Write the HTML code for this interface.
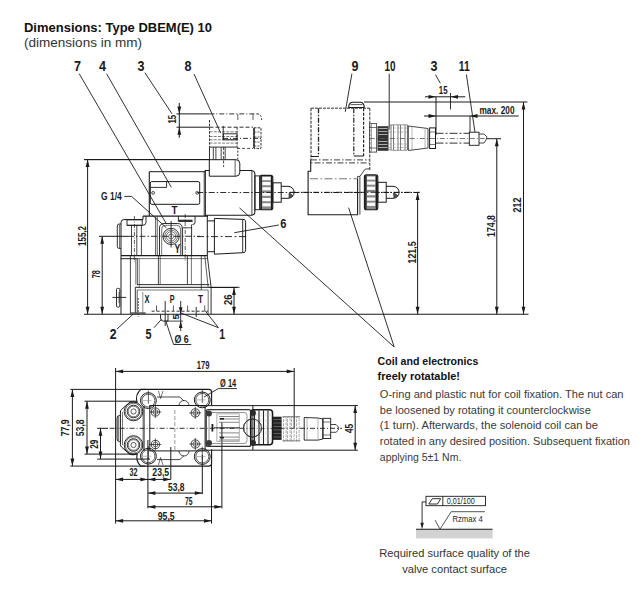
<!DOCTYPE html>
<html><head><meta charset="utf-8"><style>
html,body{margin:0;padding:0;background:#fff;}
svg{display:block;font-family:"Liberation Sans",sans-serif;}
</style></head><body>
<svg width="643" height="604" viewBox="0 0 643 604">
<rect width="643" height="604" fill="#fff"/>
<text x="24" y="31.6" font-size="12.8" font-weight="bold" text-anchor="start" textLength="188" lengthAdjust="spacingAndGlyphs" fill="#111">Dimensions: Type DBEM(E) 10</text>
<text x="24" y="46.6" font-size="13" font-weight="normal" text-anchor="start" textLength="118" lengthAdjust="spacingAndGlyphs" fill="#333">(dimensions in mm)</text>
<text x="74" y="71.4" font-size="14" font-weight="bold" text-anchor="start" textLength="7" lengthAdjust="spacingAndGlyphs" fill="#1a1a1a">7</text>
<text x="99" y="71.4" font-size="14" font-weight="bold" text-anchor="start" textLength="7" lengthAdjust="spacingAndGlyphs" fill="#1a1a1a">4</text>
<text x="137.5" y="71.4" font-size="14" font-weight="bold" text-anchor="start" textLength="7" lengthAdjust="spacingAndGlyphs" fill="#1a1a1a">3</text>
<text x="184.5" y="71.4" font-size="14" font-weight="bold" text-anchor="start" textLength="7" lengthAdjust="spacingAndGlyphs" fill="#1a1a1a">8</text>
<text x="351.5" y="71.4" font-size="14" font-weight="bold" text-anchor="start" textLength="7" lengthAdjust="spacingAndGlyphs" fill="#1a1a1a">9</text>
<text x="384.5" y="71.4" font-size="14" font-weight="bold" text-anchor="start" textLength="11" lengthAdjust="spacingAndGlyphs" fill="#1a1a1a">10</text>
<text x="430.5" y="71.4" font-size="14" font-weight="bold" text-anchor="start" textLength="7" lengthAdjust="spacingAndGlyphs" fill="#1a1a1a">3</text>
<text x="458.8" y="71.4" font-size="14" font-weight="bold" text-anchor="start" textLength="11" lengthAdjust="spacingAndGlyphs" fill="#1a1a1a">11</text>
<line x1="79.2" y1="73.7" x2="166.5" y2="224" stroke="#1a1a1a" stroke-width="0.9"/>
<line x1="106.6" y1="73.7" x2="171.3" y2="187.3" stroke="#1a1a1a" stroke-width="0.9"/>
<line x1="144.9" y1="72.7" x2="172" y2="113.8" stroke="#1a1a1a" stroke-width="0.9"/>
<line x1="194" y1="74" x2="220.7" y2="133.1" stroke="#1a1a1a" stroke-width="0.9"/>
<line x1="351.9" y1="73.7" x2="345.3" y2="111.8" stroke="#1a1a1a" stroke-width="0.9"/>
<line x1="389.2" y1="73.7" x2="389.2" y2="129.6" stroke="#1a1a1a" stroke-width="0.9"/>
<line x1="435.5" y1="74.6" x2="440.3" y2="83.3" stroke="#1a1a1a" stroke-width="0.9"/>
<line x1="466.4" y1="74.6" x2="475" y2="132.3" stroke="#1a1a1a" stroke-width="0.9"/>
<line x1="84" y1="314.3" x2="528.5" y2="314.3" stroke="#1a1a1a" stroke-width="1.1"/>
<line x1="84.3" y1="159.5" x2="209.5" y2="159.5" stroke="#1a1a1a" stroke-width="1"/>
<line x1="87.6" y1="159.5" x2="87.6" y2="314.3" stroke="#1a1a1a" stroke-width="1"/>
<polygon points="87.6,159.5 85.7,167 89.5,167" fill="#1a1a1a"/>
<polygon points="87.6,314.3 85.7,306.8 89.5,306.8" fill="#1a1a1a"/>
<text x="85.6" y="246" font-size="11" font-weight="bold" text-anchor="start" textLength="20" lengthAdjust="spacingAndGlyphs" transform="rotate(-90 85.6 246)" fill="#1a1a1a">155,2</text>
<line x1="99" y1="236.3" x2="128" y2="236.3" stroke="#1a1a1a" stroke-width="1"/>
<line x1="128" y1="236.3" x2="200" y2="236.3" stroke="#1a1a1a" stroke-width="0.9" stroke-dasharray="6 2 1.5 2"/>
<line x1="102.2" y1="236.3" x2="102.2" y2="314.3" stroke="#1a1a1a" stroke-width="1"/>
<polygon points="102.2,236.3 100.3,243.8 104.1,243.8" fill="#1a1a1a"/>
<polygon points="102.2,314.3 100.3,306.8 104.1,306.8" fill="#1a1a1a"/>
<text x="99.8" y="278.3" font-size="11" font-weight="bold" text-anchor="start" textLength="8" lengthAdjust="spacingAndGlyphs" transform="rotate(-90 99.8 278.3)" fill="#1a1a1a">78</text>
<line x1="209.6" y1="287.5" x2="237" y2="287.5" stroke="#1a1a1a" stroke-width="1"/>
<line x1="234" y1="287.5" x2="234" y2="314.3" stroke="#1a1a1a" stroke-width="1"/>
<polygon points="234,287.5 232.1,295 235.9,295" fill="#1a1a1a"/>
<polygon points="234,314.3 232.1,306.8 235.9,306.8" fill="#1a1a1a"/>
<text x="231.7" y="305" font-size="11" font-weight="bold" text-anchor="start" textLength="10.5" lengthAdjust="spacingAndGlyphs" transform="rotate(-90 231.7 305)" fill="#1a1a1a">26</text>
<line x1="294" y1="192.5" x2="420" y2="192.5" stroke="#1a1a1a" stroke-width="1" stroke-dasharray="5 2 1 2"/>
<line x1="417.6" y1="192.5" x2="417.6" y2="314.3" stroke="#1a1a1a" stroke-width="1"/>
<polygon points="417.6,192.5 415.7,200 419.5,200" fill="#1a1a1a"/>
<polygon points="417.6,314.3 415.7,306.8 419.5,306.8" fill="#1a1a1a"/>
<text x="415.8" y="263.4" font-size="11" font-weight="bold" text-anchor="start" textLength="22" lengthAdjust="spacingAndGlyphs" transform="rotate(-90 415.8 263.4)" fill="#1a1a1a">121,5</text>
<line x1="486.7" y1="138.7" x2="501" y2="138.7" stroke="#1a1a1a" stroke-width="1"/>
<line x1="496.8" y1="138.7" x2="496.8" y2="314.3" stroke="#1a1a1a" stroke-width="1"/>
<polygon points="496.8,138.7 494.9,146.2 498.7,146.2" fill="#1a1a1a"/>
<polygon points="496.8,314.3 494.9,306.8 498.7,306.8" fill="#1a1a1a"/>
<text x="494.8" y="237" font-size="11" font-weight="bold" text-anchor="start" textLength="22" lengthAdjust="spacingAndGlyphs" transform="rotate(-90 494.8 237)" fill="#1a1a1a">174,8</text>
<line x1="364" y1="102" x2="527.4" y2="102" stroke="#1a1a1a" stroke-width="1"/>
<line x1="523.5" y1="102" x2="523.5" y2="314.3" stroke="#1a1a1a" stroke-width="1"/>
<polygon points="523.5,102 521.6,109.5 525.4,109.5" fill="#1a1a1a"/>
<polygon points="523.5,314.3 521.6,306.8 525.4,306.8" fill="#1a1a1a"/>
<text x="521.4" y="212.5" font-size="11" font-weight="bold" text-anchor="start" textLength="15" lengthAdjust="spacingAndGlyphs" transform="rotate(-90 521.4 212.5)" fill="#1a1a1a">212</text>
<line x1="425" y1="96.8" x2="465.3" y2="96.8" stroke="#1a1a1a" stroke-width="1"/>
<polygon points="436,96.8 428.5,94.9 428.5,98.7" fill="#1a1a1a"/>
<polygon points="450.5,96.8 458,94.9 458,98.7" fill="#1a1a1a"/>
<line x1="436" y1="96.8" x2="436" y2="135" stroke="#1a1a1a" stroke-width="1"/>
<line x1="450.5" y1="93" x2="450.5" y2="109.4" stroke="#1a1a1a" stroke-width="0.9"/>
<text x="438.8" y="93.8" font-size="10" font-weight="bold" text-anchor="start" textLength="8.7" lengthAdjust="spacingAndGlyphs" fill="#1a1a1a">15</text>
<line x1="424" y1="116" x2="518.7" y2="116" stroke="#1a1a1a" stroke-width="1"/>
<polygon points="436,116 428.5,114.1 428.5,117.9" fill="#1a1a1a"/>
<polygon points="470,116 477.5,114.1 477.5,117.9" fill="#1a1a1a"/>
<line x1="470" y1="116" x2="470" y2="132" stroke="#1a1a1a" stroke-width="0.9"/>
<text x="479.5" y="113.8" font-size="10.5" font-weight="bold" text-anchor="start" textLength="35" lengthAdjust="spacingAndGlyphs" fill="#1a1a1a">max. 200</text>
<line x1="179.3" y1="102.9" x2="179.3" y2="137.7" stroke="#1a1a1a" stroke-width="1"/>
<polygon points="179.3,114 177.4,106.5 181.2,106.5" fill="#1a1a1a"/>
<polygon points="179.3,127.2 177.4,134.7 181.2,134.7" fill="#1a1a1a"/>
<text x="176.5" y="123.6" font-size="10.5" font-weight="bold" text-anchor="start" textLength="8.7" lengthAdjust="spacingAndGlyphs" transform="rotate(-90 176.5 123.6)" fill="#1a1a1a">15</text>
<line x1="239.5" y1="207.9" x2="394.2" y2="347" stroke="#1a1a1a" stroke-width="0.9"/>
<line x1="348.6" y1="207.7" x2="394.2" y2="347" stroke="#1a1a1a" stroke-width="0.9"/>
<text x="280.3" y="227.8" font-size="13.5" font-weight="bold" text-anchor="start" textLength="6.2" lengthAdjust="spacingAndGlyphs" fill="#1a1a1a">6</text>
<line x1="278.8" y1="225" x2="234.3" y2="232.7" stroke="#1a1a1a" stroke-width="0.9"/>
<text x="377.6" y="365" font-size="11.3" font-weight="bold" text-anchor="start" textLength="100.7" lengthAdjust="spacingAndGlyphs" fill="#111">Coil and electronics</text>
<text x="377.6" y="380.2" font-size="11.3" font-weight="bold" text-anchor="start" textLength="82.4" lengthAdjust="spacingAndGlyphs" fill="#111">freely rotatable!</text>
<text x="379.8" y="397.6" font-size="11.5" font-weight="normal" text-anchor="start" textLength="243.7" lengthAdjust="spacingAndGlyphs" fill="#3a3a3a">O-ring and plastic nut for coil fixation. The nut can</text>
<text x="379.8" y="414.2" font-size="11.5" font-weight="normal" text-anchor="start" textLength="211" lengthAdjust="spacingAndGlyphs" fill="#3a3a3a">be loosened by rotating it counterclockwise</text>
<text x="379.8" y="428.5" font-size="11.5" font-weight="normal" text-anchor="start" textLength="218.2" lengthAdjust="spacingAndGlyphs" fill="#3a3a3a">(1 turn). Afterwards, the solenoid coil can be</text>
<text x="379.8" y="444.8" font-size="11.5" font-weight="normal" text-anchor="start" textLength="250.1" lengthAdjust="spacingAndGlyphs" fill="#3a3a3a">rotated in any desired position. Subsequent fixation</text>
<text x="379.8" y="460.5" font-size="11.5" font-weight="normal" text-anchor="start" textLength="81.5" lengthAdjust="spacingAndGlyphs" fill="#3a3a3a">applying 5±1 Nm.</text>
<rect x="416" y="529.2" width="76.5" height="9.2" fill="#d2d2d2" stroke="none" stroke-width="0"/>
<line x1="416" y1="529.2" x2="492.5" y2="529.2" stroke="#1a1a1a" stroke-width="1.1"/>
<rect x="426" y="496.3" width="59.5" height="9.4" fill="#fff" stroke="#1a1a1a" stroke-width="0.9"/>
<line x1="442.8" y1="496.3" x2="442.8" y2="505.7" stroke="#1a1a1a" stroke-width="0.9"/>
<path d="M428.8 504 L432.3 498.7 L440.7 498.7 L437.5 504 Z" fill="none" stroke="#1a1a1a" stroke-width="0.9"/>
<text x="446.7" y="504" font-size="8.5" font-weight="normal" text-anchor="start" textLength="28" lengthAdjust="spacingAndGlyphs" fill="#222">0,01/100</text>
<line x1="426" y1="501.9" x2="422.1" y2="501.9" stroke="#1a1a1a" stroke-width="0.9"/>
<line x1="422.1" y1="501.9" x2="422.1" y2="523" stroke="#1a1a1a" stroke-width="0.9"/>
<polygon points="422.1,529.2 420.4,522.7 423.8,522.7" fill="#1a1a1a"/>
<path d="M435.1 520.1 L440 529.2 L451.2 511.7 L484.8 511.7" fill="none" stroke="#444" stroke-width="0.9"/>
<text x="452.4" y="521.8" font-size="8.5" font-weight="normal" text-anchor="start" textLength="30.4" lengthAdjust="spacingAndGlyphs" fill="#222">Rzmax 4</text>
<text x="454.6" y="557.2" font-size="11" font-weight="normal" text-anchor="middle" textLength="150.7" lengthAdjust="spacingAndGlyphs" fill="#333">Required surface quality of the</text>
<text x="454.6" y="573" font-size="11" font-weight="normal" text-anchor="middle" textLength="104.7" lengthAdjust="spacingAndGlyphs" fill="#333">valve contact surface</text>
<line x1="115.6" y1="368" x2="115.6" y2="523.6" stroke="#1a1a1a" stroke-width="1"/>
<line x1="116" y1="371.4" x2="294" y2="371.4" stroke="#1a1a1a" stroke-width="1"/>
<polygon points="115.6,371.4 123.1,369.5 123.1,373.3" fill="#1a1a1a"/>
<polygon points="294.2,371.4 286.7,369.5 286.7,373.3" fill="#1a1a1a"/>
<line x1="294.2" y1="368" x2="294.2" y2="428.4" stroke="#1a1a1a" stroke-width="1"/>
<text x="196.8" y="369" font-size="10.5" font-weight="bold" text-anchor="start" textLength="12.7" lengthAdjust="spacingAndGlyphs" fill="#1a1a1a">179</text>
<text x="220.1" y="386.7" font-size="10.5" font-weight="bold" text-anchor="start" textLength="16" lengthAdjust="spacingAndGlyphs" fill="#1a1a1a">Ø 14</text>
<line x1="218.3" y1="388.6" x2="236.9" y2="388.6" stroke="#1a1a1a" stroke-width="0.9"/>
<line x1="218.3" y1="388.6" x2="204" y2="397" stroke="#1a1a1a" stroke-width="0.9"/>
<line x1="70.3" y1="389.4" x2="145" y2="389.4" stroke="#1a1a1a" stroke-width="1"/>
<line x1="72.4" y1="389.4" x2="72.4" y2="466.1" stroke="#1a1a1a" stroke-width="1"/>
<polygon points="72.4,389.4 70.5,396.9 74.3,396.9" fill="#1a1a1a"/>
<polygon points="72.4,466.1 70.5,458.6 74.3,458.6" fill="#1a1a1a"/>
<line x1="70.3" y1="466.1" x2="145" y2="466.1" stroke="#1a1a1a" stroke-width="1"/>
<text x="69.3" y="436.2" font-size="10.5" font-weight="bold" text-anchor="start" textLength="16.8" lengthAdjust="spacingAndGlyphs" transform="rotate(-90 69.3 436.2)" fill="#1a1a1a">77,9</text>
<line x1="84.5" y1="401.2" x2="137" y2="401.2" stroke="#1a1a1a" stroke-width="1"/>
<line x1="87" y1="401.2" x2="87" y2="454.1" stroke="#1a1a1a" stroke-width="1"/>
<polygon points="87,401.2 85.1,408.7 88.9,408.7" fill="#1a1a1a"/>
<polygon points="87,454.1 85.1,446.6 88.9,446.6" fill="#1a1a1a"/>
<line x1="84.5" y1="454.1" x2="137" y2="454.1" stroke="#1a1a1a" stroke-width="1"/>
<text x="84.3" y="436.2" font-size="10.5" font-weight="bold" text-anchor="start" textLength="16.8" lengthAdjust="spacingAndGlyphs" transform="rotate(-90 84.3 436.2)" fill="#1a1a1a">53,8</text>
<line x1="97.2" y1="428.3" x2="108" y2="428.3" stroke="#1a1a1a" stroke-width="1"/>
<line x1="109.6" y1="428.3" x2="300" y2="428.3" stroke="#1a1a1a" stroke-width="0.9" stroke-dasharray="5 2 1 2"/>
<line x1="100.5" y1="428.3" x2="100.5" y2="459.1" stroke="#1a1a1a" stroke-width="1"/>
<polygon points="100.5,428.3 98.6,435.8 102.4,435.8" fill="#1a1a1a"/>
<polygon points="100.5,459.1 98.6,451.6 102.4,451.6" fill="#1a1a1a"/>
<line x1="97.2" y1="459.1" x2="150" y2="459.1" stroke="#1a1a1a" stroke-width="1"/>
<text x="98.1" y="448.7" font-size="10.5" font-weight="bold" text-anchor="start" textLength="9" lengthAdjust="spacingAndGlyphs" transform="rotate(-90 98.1 448.7)" fill="#1a1a1a">29</text>
<line x1="205.6" y1="405.6" x2="357.9" y2="405.6" stroke="#1a1a1a" stroke-width="1"/>
<line x1="205.6" y1="450.2" x2="357.9" y2="450.2" stroke="#1a1a1a" stroke-width="1"/>
<line x1="355.2" y1="405.6" x2="355.2" y2="450.2" stroke="#1a1a1a" stroke-width="1"/>
<polygon points="355.2,405.6 353.3,413.1 357.1,413.1" fill="#1a1a1a"/>
<polygon points="355.2,450.2 353.3,442.7 357.1,442.7" fill="#1a1a1a"/>
<text x="353.2" y="433.1" font-size="10.5" font-weight="bold" text-anchor="start" textLength="9.3" lengthAdjust="spacingAndGlyphs" transform="rotate(-90 353.2 433.1)" fill="#1a1a1a">45</text>
<line x1="147.9" y1="440" x2="147.9" y2="508.3" stroke="#1a1a1a" stroke-width="1"/>
<line x1="170.8" y1="447" x2="170.8" y2="479.4" stroke="#1a1a1a" stroke-width="1"/>
<line x1="202.3" y1="455" x2="202.3" y2="494.2" stroke="#1a1a1a" stroke-width="1"/>
<line x1="211.5" y1="462" x2="211.5" y2="523.6" stroke="#1a1a1a" stroke-width="1"/>
<line x1="221.9" y1="422.3" x2="221.9" y2="508.3" stroke="#1a1a1a" stroke-width="1"/>
<line x1="115.6" y1="479.4" x2="170.8" y2="479.4" stroke="#1a1a1a" stroke-width="1"/>
<polygon points="115.6,479.4 123.1,477.5 123.1,481.3" fill="#1a1a1a"/>
<polygon points="147.9,479.4 140.4,477.5 140.4,481.3" fill="#1a1a1a"/>
<polygon points="147.9,479.4 155.4,477.5 155.4,481.3" fill="#1a1a1a"/>
<polygon points="170.8,479.4 163.3,477.5 163.3,481.3" fill="#1a1a1a"/>
<text x="129.4" y="475.7" font-size="10.5" font-weight="bold" text-anchor="start" textLength="8" lengthAdjust="spacingAndGlyphs" fill="#1a1a1a">32</text>
<text x="152.3" y="475.7" font-size="10.5" font-weight="bold" text-anchor="start" textLength="16.9" lengthAdjust="spacingAndGlyphs" fill="#1a1a1a">23,5</text>
<line x1="147.9" y1="493.1" x2="202.3" y2="493.1" stroke="#1a1a1a" stroke-width="1"/>
<polygon points="147.9,493.1 155.4,491.2 155.4,495" fill="#1a1a1a"/>
<polygon points="202.3,493.1 194.8,491.2 194.8,495" fill="#1a1a1a"/>
<text x="168" y="491" font-size="10.5" font-weight="bold" text-anchor="start" textLength="16.5" lengthAdjust="spacingAndGlyphs" fill="#1a1a1a">53,8</text>
<line x1="147.9" y1="506.8" x2="221.9" y2="506.8" stroke="#1a1a1a" stroke-width="1"/>
<polygon points="147.9,506.8 155.4,504.9 155.4,508.7" fill="#1a1a1a"/>
<polygon points="221.9,506.8 214.4,504.9 214.4,508.7" fill="#1a1a1a"/>
<text x="184.9" y="504.6" font-size="10.5" font-weight="bold" text-anchor="start" textLength="7.6" lengthAdjust="spacingAndGlyphs" fill="#1a1a1a">75</text>
<line x1="115.6" y1="520.8" x2="211.5" y2="520.8" stroke="#1a1a1a" stroke-width="1"/>
<polygon points="115.6,520.8 123.1,518.9 123.1,522.7" fill="#1a1a1a"/>
<polygon points="211.5,520.8 204,518.9 204,522.7" fill="#1a1a1a"/>
<text x="157.7" y="519.9" font-size="10.5" font-weight="bold" text-anchor="start" textLength="17" lengthAdjust="spacingAndGlyphs" fill="#1a1a1a">95,5</text>
<text x="109.8" y="339" font-size="14.2" font-weight="bold" text-anchor="start" textLength="6.8" lengthAdjust="spacingAndGlyphs" fill="#1a1a1a">2</text>
<text x="145.6" y="339" font-size="14.2" font-weight="bold" text-anchor="start" textLength="6" lengthAdjust="spacingAndGlyphs" fill="#1a1a1a">5</text>
<text x="219.3" y="339" font-size="14.2" font-weight="bold" text-anchor="start" textLength="5.8" lengthAdjust="spacingAndGlyphs" fill="#1a1a1a">1</text>
<line x1="117" y1="329" x2="133" y2="314.3" stroke="#1a1a1a" stroke-width="0.9"/>
<line x1="154" y1="327.7" x2="161.5" y2="319.3" stroke="#1a1a1a" stroke-width="0.9"/>
<line x1="218.4" y1="327.7" x2="205.3" y2="310.9" stroke="#1a1a1a" stroke-width="0.9"/>
<line x1="218.4" y1="327.7" x2="180.1" y2="312.7" stroke="#1a1a1a" stroke-width="0.9"/>
<text x="174.5" y="342.8" font-size="10.5" font-weight="bold" text-anchor="start" textLength="14.3" lengthAdjust="spacingAndGlyphs" fill="#1a1a1a">Ø 6</text>
<line x1="173.6" y1="344.5" x2="191.3" y2="344.5" stroke="#1a1a1a" stroke-width="0.9"/>
<line x1="173.6" y1="344.5" x2="166.1" y2="322" stroke="#1a1a1a" stroke-width="0.9"/>
<text x="179.2" y="319.5" font-size="9" font-weight="bold" text-anchor="start" textLength="5.6" lengthAdjust="spacingAndGlyphs" transform="rotate(-90 179.2 319.5)" fill="#1a1a1a">5</text>
<line x1="180.7" y1="301" x2="180.7" y2="331" stroke="#1a1a1a" stroke-width="0.9"/>
<polygon points="180.7,314.3 178.9,307.3 182.5,307.3" fill="#1a1a1a"/>
<polygon points="180.7,321.1 178.9,328.1 182.5,328.1" fill="#1a1a1a"/>
<line x1="164.3" y1="321.1" x2="183" y2="321.1" stroke="#1a1a1a" stroke-width="0.8"/>
<text x="144.6" y="302.7" font-size="10" font-weight="bold" text-anchor="start" textLength="5" lengthAdjust="spacingAndGlyphs" fill="#1a1a1a">X</text>
<text x="169.7" y="302.7" font-size="10" font-weight="bold" text-anchor="start" textLength="4.8" lengthAdjust="spacingAndGlyphs" fill="#1a1a1a">P</text>
<text x="198" y="302.7" font-size="10" font-weight="bold" text-anchor="start" textLength="5" lengthAdjust="spacingAndGlyphs" fill="#1a1a1a">T</text>
<text x="171.6" y="214.3" font-size="11.5" font-weight="bold" text-anchor="start" textLength="6" lengthAdjust="spacingAndGlyphs" fill="#1a1a1a">T</text>
<text x="174.6" y="253.3" font-size="12" font-weight="bold" text-anchor="start" textLength="5.8" lengthAdjust="spacingAndGlyphs" fill="#1a1a1a">Y</text>
<text x="101" y="199.7" font-size="10" font-weight="bold" text-anchor="start" textLength="20.7" lengthAdjust="spacingAndGlyphs" fill="#1a1a1a">G 1/4</text>
<line x1="124.3" y1="196.4" x2="131.6" y2="196.4" stroke="#1a1a1a" stroke-width="0.9"/>
<line x1="131.6" y1="196.4" x2="166.4" y2="227.8" stroke="#1a1a1a" stroke-width="0.9"/>
<line x1="143" y1="216.1" x2="208" y2="216.1" stroke="#1a1a1a" stroke-width="1.1"/>
<path d="M143 216.1 L143 219.6 L124 219.6 Q121 219.6 121 222.6 L121 314.3" fill="none" stroke="#1a1a1a" stroke-width="1.0"/>
<path d="M146 216.1 L146 222.5 Q146 225.3 142.5 225.3 L127 225.3" fill="none" stroke="#1a1a1a" stroke-width="0.9"/>
<rect x="127" y="219.8" width="15.2" height="5.5" fill="none" stroke="#1a1a1a" stroke-width="0.9"/>
<line x1="131.5" y1="225.3" x2="131.5" y2="255.5" stroke="#1a1a1a" stroke-width="0.8"/>
<line x1="136.8" y1="225.3" x2="136.8" y2="255.5" stroke="#1a1a1a" stroke-width="0.8"/>
<line x1="134.4" y1="216" x2="134.4" y2="262" stroke="#1a1a1a" stroke-width="0.7" stroke-dasharray="4 1.5 1 1.5"/>
<line x1="141.4" y1="225.3" x2="141.4" y2="255.5" stroke="#1a1a1a" stroke-width="0.8"/>
<path d="M121 224 L119 224 Q117.3 224 117.3 226 L117.3 246.4 Q117.3 248.4 119 248.4 L121 248.4" fill="none" stroke="#1a1a1a" stroke-width="0.9"/>
<line x1="119.5" y1="224.5" x2="119.5" y2="248" stroke="#1a1a1a" stroke-width="0.6"/>
<path d="M178.4 216.1 L178.4 221.4 L192.5 221.4" fill="none" stroke="#1a1a1a" stroke-width="0.9"/>
<path d="M195 216.1 L195 222.7 Q195 224.5 192.5 224.5" fill="none" stroke="#1a1a1a" stroke-width="0.9"/>
<rect x="178.4" y="219.7" width="14.1" height="1.9" fill="#333" stroke="none" stroke-width="0"/>
<line x1="182.6" y1="227.8" x2="192" y2="227.8" stroke="#1a1a1a" stroke-width="0.8"/>
<line x1="182.6" y1="227.8" x2="182.6" y2="255.5" stroke="#1a1a1a" stroke-width="0.6"/>
<line x1="191.6" y1="224.5" x2="191.6" y2="255.5" stroke="#1a1a1a" stroke-width="0.9"/>
<line x1="185.2" y1="214" x2="185.2" y2="262" stroke="#1a1a1a" stroke-width="0.7" stroke-dasharray="4 1.5 1 1.5"/>
<line x1="155.7" y1="217" x2="155.7" y2="256" stroke="#1a1a1a" stroke-width="0.8"/>
<line x1="157.4" y1="217" x2="157.4" y2="256" stroke="#1a1a1a" stroke-width="0.6"/>
<path d="M159.5 255.5 L159.5 228 Q159.5 223.5 164 223.5 L177.7 223.5 Q182.2 223.5 182.2 228 L182.2 255.5" fill="none" stroke="#1a1a1a" stroke-width="0.9"/>
<path d="M161.7 255.5 L161.7 229 Q161.7 225.3 165.4 225.3 L176.8 225.3 Q180.5 225.3 180.5 229 L180.5 255.5" fill="none" stroke="#1a1a1a" stroke-width="0.6"/>
<circle cx="171.1" cy="236.4" r="8.1" fill="none" stroke="#1a1a1a" stroke-width="0.9"/>
<circle cx="171.1" cy="236.4" r="6.4" fill="none" stroke="#1a1a1a" stroke-width="0.6"/>
<circle cx="171.1" cy="236.4" r="4.7" fill="none" stroke="#1a1a1a" stroke-width="0.6"/>
<circle cx="171.1" cy="236.4" r="2.5" fill="none" stroke="#1a1a1a" stroke-width="0.6"/>
<line x1="171.1" y1="221" x2="171.1" y2="247.5" stroke="#1a1a1a" stroke-width="0.9"/>
<line x1="207.3" y1="216" x2="207.3" y2="255.8" stroke="#1a1a1a" stroke-width="1.0"/>
<line x1="204.8" y1="256" x2="208.2" y2="287.3" stroke="#1a1a1a" stroke-width="0.7"/>
<line x1="207.3" y1="256" x2="211.1" y2="287.3" stroke="#1a1a1a" stroke-width="0.9"/>
<line x1="201.3" y1="256" x2="201.3" y2="290" stroke="#1a1a1a" stroke-width="0.7"/>
<line x1="121" y1="255.6" x2="207.6" y2="255.6" stroke="#1a1a1a" stroke-width="1.4"/>
<line x1="121" y1="258.6" x2="207.6" y2="258.6" stroke="#1a1a1a" stroke-width="0.6"/>
<line x1="130.4" y1="256" x2="130.4" y2="314.3" stroke="#1a1a1a" stroke-width="0.8"/>
<line x1="135.9" y1="258.7" x2="135.9" y2="284.6" stroke="#1a1a1a" stroke-width="0.7"/>
<line x1="137.6" y1="258.7" x2="137.6" y2="284.6" stroke="#1a1a1a" stroke-width="0.7"/>
<line x1="139.3" y1="258.7" x2="139.3" y2="287" stroke="#1a1a1a" stroke-width="0.5"/>
<line x1="158.4" y1="256" x2="158.4" y2="284.6" stroke="#1a1a1a" stroke-width="0.8"/>
<line x1="160.2" y1="256" x2="160.2" y2="284.6" stroke="#1a1a1a" stroke-width="0.6"/>
<line x1="187.4" y1="256" x2="187.4" y2="284.6" stroke="#1a1a1a" stroke-width="0.8"/>
<line x1="191.4" y1="256" x2="191.4" y2="284.6" stroke="#1a1a1a" stroke-width="0.6"/>
<line x1="137" y1="284.6" x2="209.4" y2="284.6" stroke="#1a1a1a" stroke-width="0.9"/>
<line x1="135.3" y1="287.3" x2="239.5" y2="287.3" stroke="#1a1a1a" stroke-width="1.0"/>
<line x1="135.3" y1="287.3" x2="135.3" y2="314.3" stroke="#1a1a1a" stroke-width="0.9"/>
<line x1="211.1" y1="287.3" x2="211.1" y2="314.3" stroke="#1a1a1a" stroke-width="0.9"/>
<line x1="208.2" y1="290" x2="208.2" y2="314.3" stroke="#1a1a1a" stroke-width="0.6"/>
<line x1="137.2" y1="290" x2="137.2" y2="314.3" stroke="#1a1a1a" stroke-width="0.7"/>
<line x1="142.8" y1="292" x2="142.8" y2="314.3" stroke="#1a1a1a" stroke-width="0.5"/>
<line x1="137.2" y1="290" x2="208.2" y2="290" stroke="#1a1a1a" stroke-width="0.6"/>
<line x1="120.6" y1="258.7" x2="137.6" y2="258.7" stroke="#1a1a1a" stroke-width="0.7"/>
<line x1="138.2" y1="298" x2="138.2" y2="316.6" stroke="#1a1a1a" stroke-width="0.8" stroke-dasharray="2 1"/>
<rect x="130" y="312.3" width="15.7" height="1.6" fill="#555" stroke="none" stroke-width="0"/>
<rect x="116.5" y="288.4" width="3.3" height="18.7" rx="1" fill="none" stroke="#1a1a1a" stroke-width="0.9"/>
<line x1="112.4" y1="297.4" x2="126.3" y2="297.4" stroke="#1a1a1a" stroke-width="0.9"/>
<line x1="119" y1="292" x2="119" y2="303" stroke="#1a1a1a" stroke-width="0.6"/>
<line x1="151.6" y1="311.2" x2="208" y2="311.2" stroke="#1a1a1a" stroke-width="0.9" stroke-dasharray="3 2"/>
<line x1="156.5" y1="305.5" x2="156.5" y2="311" stroke="#1a1a1a" stroke-width="0.7"/>
<line x1="173.4" y1="305.5" x2="173.4" y2="311" stroke="#1a1a1a" stroke-width="0.7"/>
<line x1="187.6" y1="305.5" x2="187.6" y2="311" stroke="#1a1a1a" stroke-width="0.7"/>
<line x1="204.7" y1="305.5" x2="204.7" y2="311" stroke="#1a1a1a" stroke-width="0.7"/>
<line x1="196.2" y1="307" x2="196.2" y2="317" stroke="#1a1a1a" stroke-width="0.9"/>
<path d="M160.5 314.3 L160.5 318 Q160.5 321.1 163.5 321.1 L168 321.1 L168 314.3" fill="none" stroke="#1a1a1a" stroke-width="0.9"/>
<line x1="165.2" y1="301" x2="165.2" y2="326" stroke="#1a1a1a" stroke-width="0.9"/>
<line x1="149.3" y1="171.7" x2="205.3" y2="171.7" stroke="#1a1a1a" stroke-width="1.0"/>
<line x1="149.3" y1="171.7" x2="149.3" y2="216.1" stroke="#1a1a1a" stroke-width="1.1"/>
<rect x="150.3" y="181.6" width="49.4" height="22.7" rx="1.5" fill="none" stroke="#1a1a1a" stroke-width="1.0"/>
<path d="M150.3 187.4 L166.6 187.4 L166.6 181.6" fill="none" stroke="#1a1a1a" stroke-width="0.9"/>
<circle cx="153.1" cy="192.9" r="1.4" fill="none" stroke="#1a1a1a" stroke-width="0.8"/>
<circle cx="197.2" cy="192.9" r="1.4" fill="none" stroke="#1a1a1a" stroke-width="0.8"/>
<path d="M205.3 216.1 L205.3 170.5 L251 170.5 Q254.9 170.5 254.9 174.5 L254.9 211.5 Q254.9 215.3 251 215.3 L205.3 215.3" fill="none" stroke="#1a1a1a" stroke-width="1.1"/>
<line x1="251.9" y1="171" x2="251.9" y2="215" stroke="#1a1a1a" stroke-width="0.8"/>
<line x1="204.2" y1="171.7" x2="204.2" y2="216" stroke="#1a1a1a" stroke-width="0.8"/>
<rect x="254.9" y="175.9" width="5" height="33.8" fill="none" stroke="#1a1a1a" stroke-width="0.9"/>
<rect x="259.8" y="175.4" width="13" height="34.3" rx="2" fill="#888" stroke="#1a1a1a" stroke-width="1.1"/>
<rect x="262.3" y="177" width="8.4" height="3.2" fill="#fafafa" stroke="none" stroke-width="0"/>
<rect x="262.3" y="182" width="8.4" height="3.2" fill="#fafafa" stroke="none" stroke-width="0"/>
<rect x="262.3" y="187.2" width="8.4" height="3.2" fill="#fafafa" stroke="none" stroke-width="0"/>
<rect x="262.3" y="192.6" width="8.4" height="3.2" fill="#fafafa" stroke="none" stroke-width="0"/>
<rect x="262.3" y="198" width="8.4" height="3.2" fill="#fafafa" stroke="none" stroke-width="0"/>
<rect x="262.3" y="203.2" width="8.4" height="3.2" fill="#fafafa" stroke="none" stroke-width="0"/>
<line x1="261.2" y1="176" x2="261.2" y2="209" stroke="#1a1a1a" stroke-width="1.3"/>
<line x1="271.6" y1="176" x2="271.6" y2="209" stroke="#1a1a1a" stroke-width="1.3"/>
<rect x="272.8" y="182.8" width="8.4" height="19.4" fill="none" stroke="#1a1a1a" stroke-width="1.0"/>
<path d="M281.2 186.3 L288 186.3 A6.1 6 0 0 1 288 198.3 L281.2 198.3" fill="none" stroke="#1a1a1a" stroke-width="1.0"/>
<path d="M289 193 Q292 194 293 196 L289 198 Z" fill="#555" stroke="#1a1a1a" stroke-width="0.6"/>
<line x1="197.2" y1="192.5" x2="300" y2="192.5" stroke="#1a1a1a" stroke-width="0.9" stroke-dasharray="6 2 1.5 2"/>
<path d="M209.3 176.2 L209.3 159.7 L236 159.7 Q239.8 159.7 239.8 163.5 L239.8 172.4 Q239.8 176.2 236 176.2 Z" fill="#fff" stroke="#1a1a1a" stroke-width="1.0"/>
<line x1="235.1" y1="160" x2="235.1" y2="176" stroke="#1a1a1a" stroke-width="0.7"/>
<line x1="223.6" y1="147" x2="223.6" y2="167" stroke="#1a1a1a" stroke-width="0.8" stroke-dasharray="3 1.5"/>
<line x1="213.3" y1="147.1" x2="213.3" y2="159.7" stroke="#1a1a1a" stroke-width="0.8"/>
<line x1="215.9" y1="147.1" x2="215.9" y2="159.7" stroke="#1a1a1a" stroke-width="0.8"/>
<line x1="221.2" y1="147.1" x2="221.2" y2="159.7" stroke="#1a1a1a" stroke-width="0.8"/>
<line x1="225.2" y1="147.1" x2="225.2" y2="159.7" stroke="#1a1a1a" stroke-width="0.8"/>
<line x1="209.5" y1="147.1" x2="209.5" y2="159.7" stroke="#1a1a1a" stroke-width="0.9"/>
<line x1="237.8" y1="147.1" x2="237.8" y2="159.7" stroke="#1a1a1a" stroke-width="0.9" stroke-dasharray="2 1.5"/>
<line x1="84" y1="159.7" x2="209.3" y2="159.7" stroke="#1a1a1a" stroke-width="1.0"/>
<line x1="176.5" y1="113.9" x2="209.3" y2="113.9" stroke="#1a1a1a" stroke-width="1.0"/>
<line x1="209.3" y1="113.9" x2="257" y2="113.9" stroke="#1a1a1a" stroke-width="0.9" stroke-dasharray="5 2 1 2"/>
<path d="M257 113.9 Q261.6 113.9 261.6 119.9" fill="none" stroke="#1a1a1a" stroke-width="0.9" stroke-dasharray="2 1.5"/>
<line x1="237.8" y1="114" x2="237.8" y2="120" stroke="#1a1a1a" stroke-width="0.7"/>
<path d="M253 120 L253 114" fill="none" stroke="#1a1a1a" stroke-width="0.7"/>
<line x1="176.5" y1="127.2" x2="209.5" y2="127.2" stroke="#1a1a1a" stroke-width="1.0"/>
<line x1="209.5" y1="127.2" x2="253" y2="127.2" stroke="#1a1a1a" stroke-width="0.9" stroke-dasharray="4 2"/>
<line x1="209.5" y1="120" x2="209.5" y2="147.1" stroke="#1a1a1a" stroke-width="0.9" stroke-dasharray="2.5 1.2"/>
<line x1="237.1" y1="127.2" x2="237.1" y2="147.1" stroke="#1a1a1a" stroke-width="0.9" stroke-dasharray="2.5 1.2"/>
<line x1="209.5" y1="131.8" x2="237.1" y2="131.8" stroke="#444" stroke-width="0.7" stroke-dasharray="3 1.2"/>
<line x1="209.5" y1="136.5" x2="237.1" y2="136.5" stroke="#444" stroke-width="0.7" stroke-dasharray="3 1.2"/>
<line x1="209.5" y1="139.8" x2="237.1" y2="139.8" stroke="#444" stroke-width="0.7" stroke-dasharray="3 1.2"/>
<line x1="209.5" y1="143.1" x2="237.1" y2="143.1" stroke="#444" stroke-width="0.7" stroke-dasharray="3 1.2"/>
<line x1="209.5" y1="147.1" x2="237.1" y2="147.1" stroke="#1a1a1a" stroke-width="0.9"/>
<line x1="223.2" y1="125.9" x2="223.2" y2="139.8" stroke="#1a1a1a" stroke-width="0.9"/>
<rect x="223.2" y="133.8" width="13.8" height="6" fill="none" stroke="#1a1a1a" stroke-width="0.9"/>
<line x1="237.1" y1="148.4" x2="253" y2="148.4" stroke="#1a1a1a" stroke-width="0.8" stroke-dasharray="3 2"/>
<rect x="254" y="127.8" width="7" height="20.6" fill="none" stroke="#1a1a1a" stroke-width="0.9" stroke-dasharray="2.5 1.2"/>
<line x1="254" y1="128" x2="254" y2="148" stroke="#1a1a1a" stroke-width="1.4"/>
<line x1="254.5" y1="132" x2="260.5" y2="132" stroke="#1a1a1a" stroke-width="0.7" stroke-dasharray="2 1"/>
<line x1="254.5" y1="137" x2="260.5" y2="137" stroke="#1a1a1a" stroke-width="0.7" stroke-dasharray="2 1"/>
<line x1="254.5" y1="142" x2="260.5" y2="142" stroke="#1a1a1a" stroke-width="0.7" stroke-dasharray="2 1"/>
<line x1="254.5" y1="146" x2="260.5" y2="146" stroke="#1a1a1a" stroke-width="0.7" stroke-dasharray="2 1"/>
<line x1="223" y1="138.4" x2="263" y2="138.4" stroke="#1a1a1a" stroke-width="0.9" stroke-dasharray="5 2 1 2"/>
<path d="M207.4 220.9 L214.4 220.9 M207.4 251.7 L214.4 251.7" fill="none" stroke="#1a1a1a" stroke-width="1.0"/>
<path d="M214.4 218.4 L242.7 219.4 L244.5 219.6 Q245.6 220.5 245.6 222.5 L245.6 249.5 Q245.6 251.5 244.5 252.5 L242.7 252.7 L214.4 254.2 Z" fill="none" stroke="#1a1a1a" stroke-width="1.0"/>
<line x1="242.7" y1="219.4" x2="242.7" y2="252.7" stroke="#1a1a1a" stroke-width="0.9"/>
<line x1="197" y1="236.6" x2="248" y2="236.6" stroke="#1a1a1a" stroke-width="0.9" stroke-dasharray="7 2.5 2 2.5"/>
<line x1="311" y1="108.2" x2="369.8" y2="108.2" stroke="#333" stroke-width="1.0" stroke-dasharray="3 1"/>
<line x1="311" y1="108.2" x2="311" y2="160" stroke="#333" stroke-width="1.1" stroke-dasharray="3 1.2"/>
<line x1="318.5" y1="108.2" x2="318.5" y2="156.5" stroke="#222" stroke-width="1.3" stroke-dasharray="5 1.5 1.5 1.5"/>
<line x1="311" y1="156.5" x2="318.5" y2="156.5" stroke="#1a1a1a" stroke-width="1.0"/>
<line x1="353.8" y1="108.2" x2="353.8" y2="156" stroke="#222" stroke-width="1.2" stroke-dasharray="5 1.5 1.5 1.5"/>
<line x1="353.8" y1="156" x2="363.6" y2="156" stroke="#1a1a1a" stroke-width="1.0"/>
<line x1="363.6" y1="108.2" x2="363.6" y2="156" stroke="#222" stroke-width="1.2" stroke-dasharray="3 1.5"/>
<line x1="369.8" y1="108.2" x2="369.8" y2="170" stroke="#333" stroke-width="1.0" stroke-dasharray="3 1.2"/>
<path d="M348.7 107.5 Q348.7 102.3 353 102.3 L360 102.3 Q364.2 102.3 364.2 107.5 Z" fill="#fff" stroke="#1a1a1a" stroke-width="1.1"/>
<line x1="350.5" y1="104.6" x2="362.5" y2="104.6" stroke="#444" stroke-width="0.9"/>
<line x1="311" y1="159.9" x2="369.2" y2="159.9" stroke="#666" stroke-width="1.1" stroke-dasharray="6 2 1.5 2"/>
<line x1="311" y1="162.9" x2="369.2" y2="162.9" stroke="#666" stroke-width="1.1" stroke-dasharray="1.5 2 6 2"/>
<rect x="369.6" y="123.6" width="7" height="28.5" fill="none" stroke="#444" stroke-width="0.9"/>
<line x1="371.5" y1="124" x2="371.5" y2="151.5" stroke="#666" stroke-width="0.6"/>
<line x1="369.6" y1="127.5" x2="376.6" y2="127.5" stroke="#1a1a1a" stroke-width="0.6"/>
<line x1="369.6" y1="148" x2="376.6" y2="148" stroke="#1a1a1a" stroke-width="0.6"/>
<rect x="377.5" y="126.2" width="11" height="24.6" fill="#333" stroke="none" stroke-width="0"/>
<line x1="378.5" y1="128.5" x2="387.5" y2="128.5" stroke="#bbb" stroke-width="0.9"/>
<line x1="378.5" y1="131.5" x2="387.5" y2="131.5" stroke="#bbb" stroke-width="0.9"/>
<line x1="378.5" y1="134.5" x2="387.5" y2="134.5" stroke="#bbb" stroke-width="0.9"/>
<line x1="378.5" y1="141.5" x2="387.5" y2="141.5" stroke="#bbb" stroke-width="0.9"/>
<line x1="378.5" y1="144.5" x2="387.5" y2="144.5" stroke="#bbb" stroke-width="0.9"/>
<line x1="378.5" y1="147.5" x2="387.5" y2="147.5" stroke="#bbb" stroke-width="0.9"/>
<line x1="391" y1="125" x2="391" y2="150" stroke="#555" stroke-width="0.8"/>
<line x1="393.5" y1="125" x2="393.5" y2="150" stroke="#555" stroke-width="0.8"/>
<line x1="398" y1="125" x2="398" y2="150" stroke="#555" stroke-width="0.8"/>
<line x1="400.5" y1="125" x2="400.5" y2="150" stroke="#555" stroke-width="0.8"/>
<line x1="405" y1="125" x2="405" y2="150" stroke="#555" stroke-width="0.8"/>
<line x1="407.5" y1="125" x2="407.5" y2="150" stroke="#555" stroke-width="0.8"/>
<line x1="389" y1="128" x2="408" y2="128" stroke="#999" stroke-width="0.7" stroke-dasharray="2.5 1.5"/>
<line x1="389" y1="132" x2="408" y2="132" stroke="#999" stroke-width="0.7" stroke-dasharray="2.5 1.5"/>
<line x1="389" y1="144" x2="408" y2="144" stroke="#999" stroke-width="0.7" stroke-dasharray="2.5 1.5"/>
<line x1="389" y1="147.5" x2="408" y2="147.5" stroke="#999" stroke-width="0.7" stroke-dasharray="2.5 1.5"/>
<path d="M388.4 126 Q390 124.8 392 124.8 L407 124.8 Q408.3 125.5 408.3 127 M388.4 149 Q390 150.3 392 150.3 L407 150.3 Q408.3 149.5 408.3 148" fill="none" stroke="#666" stroke-width="0.7"/>
<path d="M408.3 126 L428 128.5 L428 148 L408.3 150.5 Z" fill="none" stroke="#333" stroke-width="0.9"/>
<line x1="412" y1="126.5" x2="412" y2="150" stroke="#888" stroke-width="0.6"/>
<line x1="425" y1="128" x2="425" y2="148.5" stroke="#888" stroke-width="0.6"/>
<rect x="429.6" y="127.9" width="5.9" height="20.6" fill="none" stroke="#1a1a1a" stroke-width="1.0"/>
<line x1="429.6" y1="132" x2="435.5" y2="132" stroke="#1a1a1a" stroke-width="0.6"/>
<line x1="429.6" y1="144.5" x2="435.5" y2="144.5" stroke="#1a1a1a" stroke-width="0.6"/>
<line x1="435.5" y1="133.3" x2="469.3" y2="133.3" stroke="#1a1a1a" stroke-width="0.9" stroke-dasharray="8 2 2 2"/>
<line x1="435.5" y1="143.1" x2="469.3" y2="143.1" stroke="#1a1a1a" stroke-width="0.9" stroke-dasharray="8 2 2 2"/>
<rect x="469.3" y="132.2" width="9.7" height="13.1" fill="none" stroke="#1a1a1a" stroke-width="0.9"/>
<path d="M479 134 L484 134 L487 137 L486 140 L484 143 L479 143" fill="none" stroke="#1a1a1a" stroke-width="0.8"/>
<line x1="369.8" y1="138.5" x2="500" y2="138.5" stroke="#555" stroke-width="0.8" stroke-dasharray="5 2 1 2"/>
<path d="M310.7 159.6 L310.7 171.2 L308.1 171.2 L308.1 214.7 L357.9 214.7" fill="none" stroke="#1a1a1a" stroke-width="1.1"/>
<line x1="357.6" y1="178.4" x2="357.6" y2="214.7" stroke="#1a1a1a" stroke-width="1.1"/>
<line x1="359.9" y1="176.4" x2="359.9" y2="214.7" stroke="#1a1a1a" stroke-width="0.8"/>
<path d="M357.6 178.4 L357.6 176.4 L359.9 176.4 L364.9 169.4 Q366 168.8 369.6 168.8" fill="none" stroke="#1a1a1a" stroke-width="0.8"/>
<line x1="310" y1="178.7" x2="357" y2="178.7" stroke="#777" stroke-width="1.1" stroke-dasharray="8 2.5 1.5 2.5"/>
<rect x="364.4" y="174.9" width="13.4" height="34.8" rx="2" fill="#888" stroke="#1a1a1a" stroke-width="1.1"/>
<rect x="366.9" y="176.5" width="8.4" height="3.2" fill="#fafafa" stroke="none" stroke-width="0"/>
<rect x="366.9" y="181.5" width="8.4" height="3.2" fill="#fafafa" stroke="none" stroke-width="0"/>
<rect x="366.9" y="186.7" width="8.4" height="3.2" fill="#fafafa" stroke="none" stroke-width="0"/>
<rect x="366.9" y="192.1" width="8.4" height="3.2" fill="#fafafa" stroke="none" stroke-width="0"/>
<rect x="366.9" y="197.5" width="8.4" height="3.2" fill="#fafafa" stroke="none" stroke-width="0"/>
<rect x="366.9" y="202.7" width="8.4" height="3.2" fill="#fafafa" stroke="none" stroke-width="0"/>
<line x1="365.8" y1="175.5" x2="365.8" y2="209" stroke="#1a1a1a" stroke-width="1.3"/>
<line x1="376.4" y1="175.5" x2="376.4" y2="209" stroke="#1a1a1a" stroke-width="1.3"/>
<rect x="377.8" y="182.3" width="8.4" height="19.9" fill="none" stroke="#1a1a1a" stroke-width="1.0"/>
<path d="M386.2 186.3 L393 186.3 A6.1 6 0 0 1 393 198.3 L386.2 198.3" fill="none" stroke="#1a1a1a" stroke-width="1.0"/>
<path d="M393.5 193 Q397 194 398 196 L394 198 Z" fill="#555" stroke="#1a1a1a" stroke-width="0.6"/>
<line x1="290" y1="192.3" x2="420" y2="192.3" stroke="#1a1a1a" stroke-width="0.9" stroke-dasharray="6 2 1.5 2"/>
<path d="M137.2 402.7 A12.5 12.5 0 0 1 140.9 389.4 L208.8 389.4 Q211.6 389.4 211.6 392.2 L211.6 405.6" fill="none" stroke="#1a1a1a" stroke-width="1.1"/>
<path d="M137.2 453.8 A12.5 12.5 0 0 0 140.9 466.1 L208.8 466.1 Q211.6 466.1 211.6 463.3 L211.6 449.6" fill="none" stroke="#1a1a1a" stroke-width="1.1"/>
<path d="M137.2 402.7 Q134 401 130 402 L121.5 409.5 Q120.4 410.5 120.4 412 L120.4 444.6 Q120.4 446 121.5 447 L130 454.5 Q134 455.5 137.2 453.8" fill="none" stroke="#1a1a1a" stroke-width="1.0"/>
<path d="M120.4 415.5 L119.5 415.5 Q117.1 415.5 117.1 418.5 L117.1 438.6 Q117.1 441.6 119.5 441.6 L120.4 441.6" fill="none" stroke="#1a1a1a" stroke-width="1.0"/>
<line x1="118.6" y1="416.5" x2="118.6" y2="440.5" stroke="#1a1a1a" stroke-width="0.6"/>
<line x1="122.5" y1="412" x2="122.5" y2="445" stroke="#1a1a1a" stroke-width="0.6"/>
<circle cx="133.5" cy="411.5" r="9.3" fill="none" stroke="#1a1a1a" stroke-width="0.9"/>
<circle cx="133.5" cy="411.5" r="8.2" fill="none" stroke="#1a1a1a" stroke-width="0.6"/>
<circle cx="133.5" cy="411.5" r="6.3" fill="none" stroke="#1a1a1a" stroke-width="0.9"/>
<circle cx="133.5" cy="411.5" r="5.3" fill="none" stroke="#1a1a1a" stroke-width="0.6"/>
<circle cx="133.5" cy="411.5" r="2.6" fill="none" stroke="#1a1a1a" stroke-width="0.7"/>
<circle cx="133.5" cy="445" r="9.3" fill="none" stroke="#1a1a1a" stroke-width="0.9"/>
<circle cx="133.5" cy="445" r="8.2" fill="none" stroke="#1a1a1a" stroke-width="0.6"/>
<circle cx="133.5" cy="445" r="6.3" fill="none" stroke="#1a1a1a" stroke-width="0.9"/>
<circle cx="133.5" cy="445" r="5.3" fill="none" stroke="#1a1a1a" stroke-width="0.6"/>
<circle cx="133.5" cy="445" r="2.6" fill="none" stroke="#1a1a1a" stroke-width="0.7"/>
<circle cx="148.4" cy="400.6" r="7.9" fill="none" stroke="#1a1a1a" stroke-width="1.0"/>
<circle cx="148.4" cy="400.6" r="6.5" fill="none" stroke="#1a1a1a" stroke-width="0.7"/>
<line x1="148.4" y1="390.6" x2="148.4" y2="403.6" stroke="#1a1a1a" stroke-width="0.7"/>
<line x1="142.4" y1="400.6" x2="151.4" y2="400.6" stroke="#888" stroke-width="0.6"/>
<circle cx="202.3" cy="399.9" r="7.9" fill="none" stroke="#1a1a1a" stroke-width="1.0"/>
<circle cx="202.3" cy="399.9" r="6.5" fill="none" stroke="#1a1a1a" stroke-width="0.7"/>
<line x1="202.3" y1="389.9" x2="202.3" y2="402.9" stroke="#1a1a1a" stroke-width="0.7"/>
<line x1="196.3" y1="399.9" x2="205.3" y2="399.9" stroke="#888" stroke-width="0.6"/>
<circle cx="148.4" cy="456.2" r="7.9" fill="none" stroke="#1a1a1a" stroke-width="1.0"/>
<circle cx="148.4" cy="456.2" r="6.5" fill="none" stroke="#1a1a1a" stroke-width="0.7"/>
<line x1="148.4" y1="446.2" x2="148.4" y2="459.2" stroke="#1a1a1a" stroke-width="0.7"/>
<line x1="142.4" y1="456.2" x2="151.4" y2="456.2" stroke="#888" stroke-width="0.6"/>
<circle cx="202.3" cy="456.5" r="7.9" fill="none" stroke="#1a1a1a" stroke-width="1.0"/>
<circle cx="202.3" cy="456.5" r="6.5" fill="none" stroke="#1a1a1a" stroke-width="0.7"/>
<line x1="202.3" y1="446.5" x2="202.3" y2="459.5" stroke="#1a1a1a" stroke-width="0.7"/>
<line x1="196.3" y1="456.5" x2="205.3" y2="456.5" stroke="#888" stroke-width="0.6"/>
<path d="M157 397 L179.9 397 L184 401" fill="none" stroke="#1a1a1a" stroke-width="0.8"/>
<path d="M157 459.6 L179.9 459.6 L184 455.6" fill="none" stroke="#1a1a1a" stroke-width="0.8"/>
<path d="M179 405.5 A5 5 0 0 1 189 405.5" fill="none" stroke="#1a1a1a" stroke-width="0.8"/>
<path d="M179 451 A5 5 0 0 0 189 451" fill="none" stroke="#1a1a1a" stroke-width="0.8"/>
<path d="M158.5 391 L160.5 398.5 L163 391" fill="none" stroke="#1a1a1a" stroke-width="0.6"/>
<path d="M158.5 465 L160.5 457.5 L163 465" fill="none" stroke="#1a1a1a" stroke-width="0.6"/>
<line x1="143.2" y1="406" x2="143.2" y2="451" stroke="#1a1a1a" stroke-width="0.8"/>
<line x1="144.4" y1="406" x2="144.4" y2="451" stroke="#1a1a1a" stroke-width="0.6"/>
<rect x="149.8" y="405.5" width="55.3" height="45.4" fill="none" stroke="#1a1a1a" stroke-width="1.0"/>
<line x1="174.8" y1="410" x2="174.8" y2="451" stroke="#aaa" stroke-width="1.2" stroke-dasharray="4 2"/>
<circle cx="155.4" cy="412" r="4.1" fill="none" stroke="#1a1a1a" stroke-width="0.8"/>
<circle cx="155.4" cy="412" r="2.4" fill="none" stroke="#1a1a1a" stroke-width="0.6"/>
<line x1="155.4" y1="406" x2="155.4" y2="418" stroke="#1a1a1a" stroke-width="0.7"/>
<line x1="149.4" y1="412" x2="161.4" y2="412" stroke="#1a1a1a" stroke-width="0.7"/>
<circle cx="195.3" cy="412.9" r="4.1" fill="none" stroke="#1a1a1a" stroke-width="0.8"/>
<circle cx="195.3" cy="412.9" r="2.4" fill="none" stroke="#1a1a1a" stroke-width="0.6"/>
<line x1="195.3" y1="406.9" x2="195.3" y2="418.9" stroke="#1a1a1a" stroke-width="0.7"/>
<line x1="189.3" y1="412.9" x2="201.3" y2="412.9" stroke="#1a1a1a" stroke-width="0.7"/>
<circle cx="155.4" cy="444.5" r="4.1" fill="none" stroke="#1a1a1a" stroke-width="0.8"/>
<circle cx="155.4" cy="444.5" r="2.4" fill="none" stroke="#1a1a1a" stroke-width="0.6"/>
<line x1="155.4" y1="438.5" x2="155.4" y2="450.5" stroke="#1a1a1a" stroke-width="0.7"/>
<line x1="149.4" y1="444.5" x2="161.4" y2="444.5" stroke="#1a1a1a" stroke-width="0.7"/>
<circle cx="195.3" cy="444" r="4.1" fill="none" stroke="#1a1a1a" stroke-width="0.8"/>
<circle cx="195.3" cy="444" r="2.4" fill="none" stroke="#1a1a1a" stroke-width="0.6"/>
<line x1="195.3" y1="438" x2="195.3" y2="450" stroke="#1a1a1a" stroke-width="0.7"/>
<line x1="189.3" y1="444" x2="201.3" y2="444" stroke="#1a1a1a" stroke-width="0.7"/>
<rect x="206.2" y="409.7" width="44.5" height="36.7" rx="2" fill="none" stroke="#333" stroke-width="1.3"/>
<rect x="209" y="412.5" width="38" height="31" rx="3" fill="none" stroke="#666" stroke-width="0.7"/>
<circle cx="209" cy="413.5" r="3" fill="#3a3a3a" stroke="none" stroke-width="0"/>
<circle cx="209" cy="443" r="3" fill="#3a3a3a" stroke="none" stroke-width="0"/>
<rect x="216.9" y="413.9" width="22.3" height="27.4" fill="none" stroke="#888" stroke-width="0.7"/>
<line x1="219" y1="416.5" x2="239" y2="416.5" stroke="#555" stroke-width="0.7"/>
<line x1="219" y1="419" x2="239" y2="419" stroke="#555" stroke-width="0.7"/>
<line x1="219" y1="422.3" x2="239" y2="422.3" stroke="#555" stroke-width="0.7"/>
<line x1="219" y1="432.9" x2="239" y2="432.9" stroke="#555" stroke-width="0.7"/>
<line x1="219" y1="437.1" x2="239" y2="437.1" stroke="#555" stroke-width="0.7"/>
<line x1="219" y1="440" x2="239" y2="440" stroke="#555" stroke-width="0.7"/>
<line x1="214" y1="427.8" x2="240" y2="427.8" stroke="#1a1a1a" stroke-width="0.9"/>
<rect x="220" y="418" width="4" height="1.6" fill="#222" stroke="none" stroke-width="0"/>
<rect x="220" y="436.8" width="4" height="1.6" fill="#222" stroke="none" stroke-width="0"/>
<rect x="211.5" y="424" width="1.8" height="7.5" fill="#222" stroke="none" stroke-width="0"/>
<circle cx="252.5" cy="428" r="9" fill="none" stroke="#333" stroke-width="0.9"/>
<line x1="252.9" y1="406" x2="252.9" y2="450" stroke="#1a1a1a" stroke-width="1.0"/>
<rect x="250.7" y="409.8" width="21.8" height="35" rx="3" fill="none" stroke="#1a1a1a" stroke-width="1.6"/>
<line x1="254.5" y1="410.5" x2="254.5" y2="444" stroke="#222" stroke-width="1.1"/>
<line x1="259" y1="410.5" x2="259" y2="444" stroke="#222" stroke-width="1.1"/>
<line x1="263.5" y1="410.5" x2="263.5" y2="444" stroke="#222" stroke-width="1.1"/>
<line x1="268" y1="410.5" x2="268" y2="444" stroke="#222" stroke-width="1.1"/>
<rect x="255.5" y="412.9" width="2.4" height="3.6" fill="#eee" stroke="none" stroke-width="0"/>
<rect x="255.5" y="418.9" width="2.4" height="3.6" fill="#eee" stroke="none" stroke-width="0"/>
<rect x="255.5" y="424.9" width="2.4" height="3.6" fill="#eee" stroke="none" stroke-width="0"/>
<rect x="255.5" y="430.9" width="2.4" height="3.6" fill="#eee" stroke="none" stroke-width="0"/>
<rect x="255.5" y="436.9" width="2.4" height="3.6" fill="#eee" stroke="none" stroke-width="0"/>
<rect x="260" y="412.9" width="2.4" height="3.6" fill="#eee" stroke="none" stroke-width="0"/>
<rect x="260" y="418.9" width="2.4" height="3.6" fill="#eee" stroke="none" stroke-width="0"/>
<rect x="260" y="424.9" width="2.4" height="3.6" fill="#eee" stroke="none" stroke-width="0"/>
<rect x="260" y="430.9" width="2.4" height="3.6" fill="#eee" stroke="none" stroke-width="0"/>
<rect x="260" y="436.9" width="2.4" height="3.6" fill="#eee" stroke="none" stroke-width="0"/>
<rect x="264.5" y="412.9" width="2.4" height="3.6" fill="#eee" stroke="none" stroke-width="0"/>
<rect x="264.5" y="418.9" width="2.4" height="3.6" fill="#eee" stroke="none" stroke-width="0"/>
<rect x="264.5" y="424.9" width="2.4" height="3.6" fill="#eee" stroke="none" stroke-width="0"/>
<rect x="264.5" y="430.9" width="2.4" height="3.6" fill="#eee" stroke="none" stroke-width="0"/>
<rect x="264.5" y="436.9" width="2.4" height="3.6" fill="#eee" stroke="none" stroke-width="0"/>
<rect x="268.8" y="412.9" width="2.4" height="3.6" fill="#eee" stroke="none" stroke-width="0"/>
<rect x="268.8" y="418.9" width="2.4" height="3.6" fill="#eee" stroke="none" stroke-width="0"/>
<rect x="268.8" y="424.9" width="2.4" height="3.6" fill="#eee" stroke="none" stroke-width="0"/>
<rect x="268.8" y="430.9" width="2.4" height="3.6" fill="#eee" stroke="none" stroke-width="0"/>
<rect x="268.8" y="436.9" width="2.4" height="3.6" fill="#eee" stroke="none" stroke-width="0"/>
<circle cx="252.5" cy="428" r="9" fill="none" stroke="#333" stroke-width="0.9"/>
<circle cx="253" cy="413" r="3" fill="#2a2a2a" stroke="none" stroke-width="0"/>
<circle cx="253" cy="443" r="3" fill="#2a2a2a" stroke="none" stroke-width="0"/>
<rect x="272.8" y="416.7" width="8.8" height="23.2" fill="#222" stroke="none" stroke-width="0"/>
<line x1="273.5" y1="419.5" x2="281" y2="419.5" stroke="#888" stroke-width="0.6"/>
<line x1="273.5" y1="423" x2="281" y2="423" stroke="#888" stroke-width="0.6"/>
<line x1="273.5" y1="426.5" x2="281" y2="426.5" stroke="#888" stroke-width="0.6"/>
<line x1="273.5" y1="430" x2="281" y2="430" stroke="#888" stroke-width="0.6"/>
<line x1="273.5" y1="433.5" x2="281" y2="433.5" stroke="#888" stroke-width="0.6"/>
<line x1="273.5" y1="437" x2="281" y2="437" stroke="#888" stroke-width="0.6"/>
<rect x="283.5" y="416.8" width="2.6" height="24.1" fill="none" stroke="#888" stroke-width="0.7" stroke-dasharray="3 1"/>
<rect x="287.5" y="416.8" width="2.6" height="24.1" fill="none" stroke="#888" stroke-width="0.7" stroke-dasharray="3 1"/>
<rect x="291.5" y="416.8" width="2.6" height="24.1" fill="none" stroke="#888" stroke-width="0.7" stroke-dasharray="3 1"/>
<rect x="296.5" y="416.8" width="2.6" height="24.1" fill="none" stroke="#888" stroke-width="0.7" stroke-dasharray="3 1"/>
<line x1="282.4" y1="416.8" x2="300.3" y2="416.8" stroke="#555" stroke-width="0.7"/>
<line x1="282.4" y1="440.9" x2="300.3" y2="440.9" stroke="#555" stroke-width="0.7"/>
<path d="M304.2 417.5 L318 418 L322.9 419 L322.9 439 L318 440.1 L304.2 440.1 Z" fill="none" stroke="#1a1a1a" stroke-width="0.9"/>
<line x1="307" y1="418" x2="307" y2="440" stroke="#888" stroke-width="0.6"/>
<line x1="318" y1="418" x2="318" y2="440" stroke="#888" stroke-width="0.6"/>
<rect x="322.9" y="418.3" width="7.8" height="20.2" fill="none" stroke="#1a1a1a" stroke-width="0.9"/>
<line x1="322.9" y1="422" x2="330.7" y2="422" stroke="#1a1a1a" stroke-width="0.6"/>
<line x1="322.9" y1="435" x2="330.7" y2="435" stroke="#1a1a1a" stroke-width="0.6"/>
<path d="M330.7 424.5 L336 424.5 L338.4 427 L338.4 430 L336 432.3 L330.7 432.3" fill="none" stroke="#1a1a1a" stroke-width="0.8"/>
<line x1="300" y1="428.3" x2="342" y2="428.3" stroke="#1a1a1a" stroke-width="0.9" stroke-dasharray="5 2 1 2"/>
</svg></body></html>
